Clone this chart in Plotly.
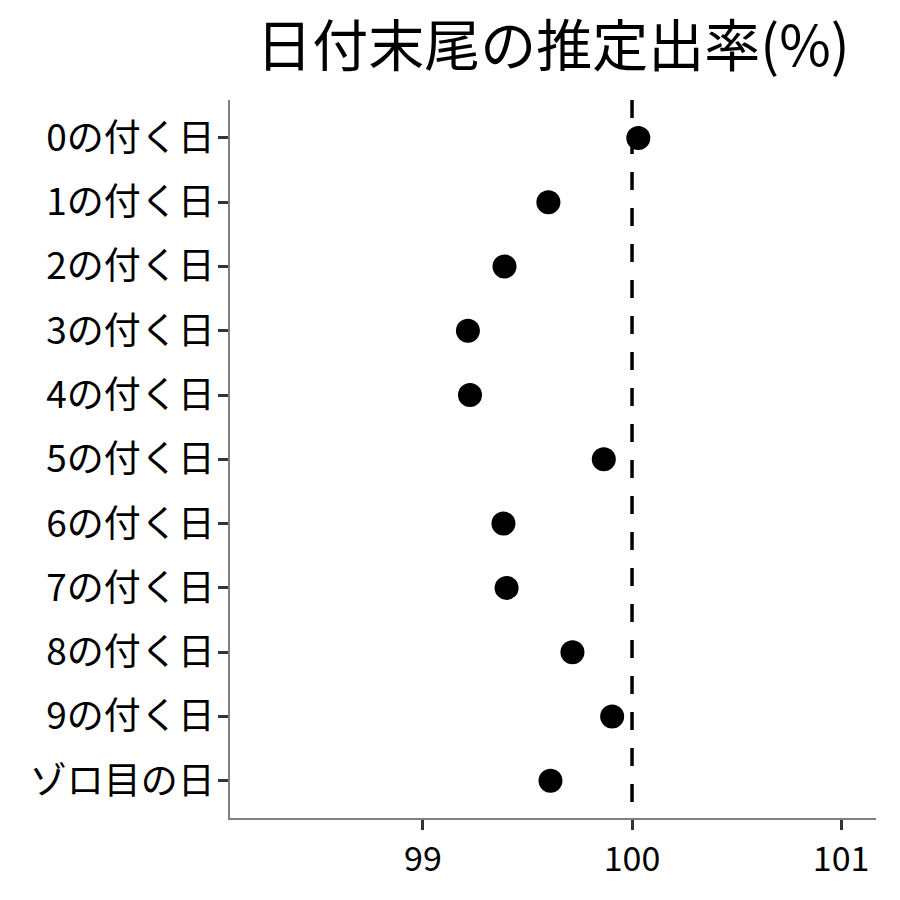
import plotly.graph_objects as go

categories = ["0の付く日", "1の付く日", "2の付く日", "3の付く日", "4の付く日",
              "5の付く日", "6の付く日", "7の付く日", "8の付く日", "9の付く日", "ゾロ目の日"]
values = [100.03, 99.60, 99.39, 99.215, 99.225, 99.865, 99.385, 99.40, 99.715, 99.905, 99.61]
x_ticks = [99, 100, 101]
reference_value = 100
title_text = "日付末尾の推定出率(%)"

FONT = "Noto Sans CJK JP"
OFF = 8  # browser default body margin
W = H = 900 - OFF

fig = go.Figure()
fig.add_trace(go.Scatter(
    x=values, y=categories, mode="markers",
    marker=dict(color="black", size=24, line=dict(width=0)),
    cliponaxis=False, showlegend=False,
))

fig.add_shape(type="line", xref="x", yref="y domain",
              x0=reference_value, x1=reference_value, y0=1, y1=0,
              line=dict(color="black", width=3.5, dash="18px,18px"), layer="above")

fig.update_layout(
    width=W, height=H,
    margin=dict(l=230 - OFF, r=900 - 876, t=100 - OFF, b=900 - 818, autoexpand=False),
    plot_bgcolor="white", paper_bgcolor="white",
    font=dict(family=FONT, color="black"),
    title=dict(text=title_text, font=dict(size=56, family=FONT, color="black"),
               x=(553 - OFF) / W, xanchor="center", xref="container",
               y=1 - (46 - OFF) / H, yanchor="middle"),
)

fig.update_xaxes(
    range=[98.077, 101.167], tickvals=x_ticks, ticktext=[str(v) for v in x_ticks],
    showgrid=False, zeroline=False, showline=True, linecolor="#7f7f7f", linewidth=1.5,
    ticks="outside", ticklen=10, tickwidth=3, tickcolor="#333333",
    tickfont=dict(size=34, family=FONT, color="black"),
)
fig.update_yaxes(
    type="category", categoryorder="array", categoryarray=categories,
    range=[len(categories) - 1 + 0.58, -0.59],
    showgrid=False, zeroline=False, showline=True, linecolor="#7f7f7f", linewidth=1.5,
    ticks="outside", ticklen=10, tickwidth=3, tickcolor="#333333",
    tickfont=dict(size=37, family=FONT, color="black"),
    ticklabelstandoff=-4,
)

fig.write_html("out.html")
